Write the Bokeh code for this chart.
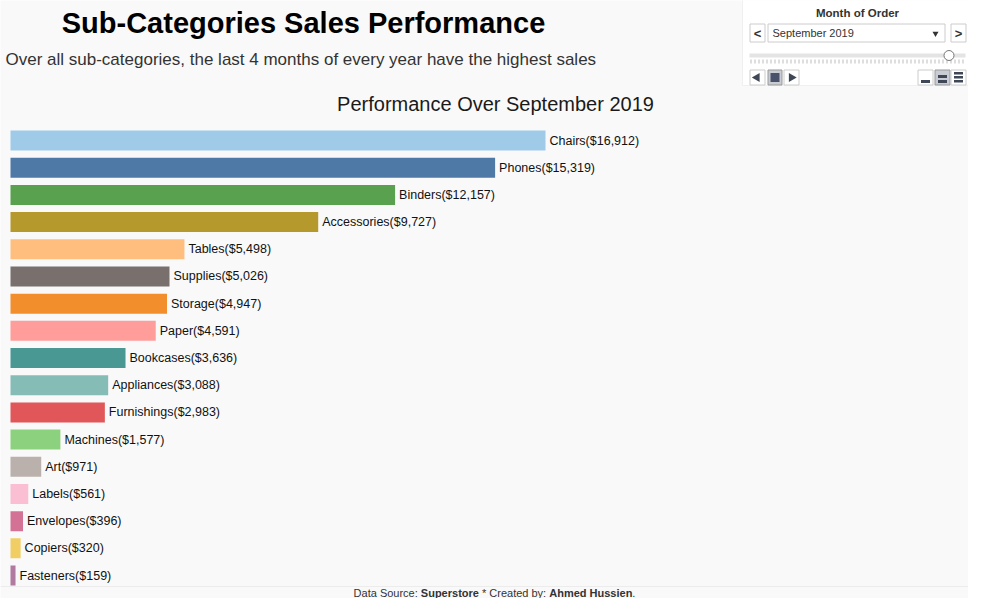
import math
from bokeh.plotting import figure
from bokeh.models import ColumnDataSource, Range1d
from bokeh.core.properties import value
from bokeh.embed import file_html
from bokeh.resources import INLINE

# ---------------- data ----------------
categories = ["Chairs", "Phones", "Binders", "Accessories", "Tables", "Supplies",
              "Storage", "Paper", "Bookcases", "Appliances", "Furnishings",
              "Machines", "Art", "Labels", "Envelopes", "Copiers", "Fasteners"]
sales = [16912, 15319, 12157, 9727, 5498, 5026, 4947, 4591, 3636, 3088, 2983,
         1577, 971, 561, 396, 320, 159]
colors = ["#a0cbe8", "#4e79a7", "#59a14f", "#b6992d", "#ffbe7d", "#79706e",
          "#f28e2b", "#ff9d9a", "#499894", "#86bcb6", "#e15759", "#8cd17d",
          "#bab0ac", "#fabfd2", "#d37295", "#f1ce63", "#b07aa1"]

main_title = "Sub-Categories Sales Performance"
subtitle = "Over all sub-categories, the last 4 months of every year have the highest sales"
chart_title = "Performance Over September 2019"
filter_title = "Month of Order"
filter_value = "September 2019"
footer_parts = ["Data Source: ", "Superstore", " * Created by: ", "Ahmed Hussien", "."]
footer_bold = [False, True, False, True, False]

# ---------------- layout constants ----------------
W, H = 968, 598
BG = "#f9f9f9"
FONT = value("Liberation Sans")
PX_PER_DOLLAR = 535 / 16912
ROW = 27.19
BAR0_X = 10
ROW0_Y = 140


def X(rx):
    return (rx - BAR0_X) / PX_PER_DOLLAR


def Y(ry):
    return (ry - ROW0_Y) / ROW


p = figure(width=W, height=H,
           x_range=Range1d(X(0), X(W)),
           y_range=Range1d(Y(H), Y(0)),
           output_backend="svg", toolbar_location=None,
           x_axis_location=None, y_axis_location=None,
           min_border=0, background_fill_color=BG, border_fill_color=BG,
           outline_line_color=None)
p.grid.visible = False

# ---------------- bars ----------------
rows = list(range(len(categories)))
labels = [f"{c}(${v:,})" for c, v in zip(categories, sales)]
src = ColumnDataSource(dict(y=rows, v=sales, c=colors, lab=labels))
p.hbar(y="y", left=0, right="v", height=20 / ROW, fill_color="c",
       line_color=None, source=src)
p.text(x="v", y="y", text="lab", x_offset=4, text_baseline="middle",
       text_align="left", text_font=FONT, text_font_size="12.5px",
       text_color="#111111", source=src)


# ---------------- header texts ----------------
def txt(rx, ry, t, size, bold=False, color="#000000", align="left"):
    p.text(x=[X(rx)], y=[Y(ry)], text=[t], text_font=FONT,
           text_font_size=size, text_font_style="bold" if bold else "normal",
           text_color=color, text_align=align, text_baseline="middle")


txt(303, 22, main_title, "29px", bold=True, color="#000000", align="center")
txt(5, 59, subtitle, "17px", color="#333333")
txt(495, 103, chart_title, "20px", color="#1a1a1a", align="center")

# footer (Arial/Liberation metrics used to chain the pieces)
W_REG = {" ": 278, "D": 722, "a": 556, "t": 278, "S": 667, "o": 556, "u": 556,
         "r": 333, "c": 500, "e": 556, ":": 278, "*": 389, "C": 722, "d": 556,
         "b": 556, "y": 500, ".": 278}
W_BOLD = {" ": 278, "S": 667, "u": 611, "p": 611, "e": 556, "r": 389, "s": 556,
          "t": 333, "o": 611, "A": 722, "h": 611, "m": 889, "d": 611, "H": 722,
          "i": 278, "n": 611}
FS = 11
widths = [sum((W_BOLD if b else W_REG).get(ch, 556) for ch in s) * FS / 1000
          for s, b in zip(footer_parts, footer_bold)]
cx = 494 - sum(widths) / 2
FOOT_Y = 592
p.segment(x0=[X(0)], y0=[Y(586)], x1=[X(W)], y1=[Y(586)],
          line_color="#ececec", line_width=1)
for part, b, w in zip(footer_parts, footer_bold, widths):
    lead = (W_BOLD if b else W_REG)[" "] * FS / 1000 * (len(part) - len(part.lstrip(" ")))
    txt(cx + lead, FOOT_Y, part.strip(" "), "11px", bold=b, color="#333333")
    cx += w

# ---------------- filter widget ----------------
WX = -8  # widget nudged left to fit the canvas


def box(l, t, r, b, fill="#ffffff", line="#cccccc", lw=1):
    p.quad(left=[X(l + WX)], right=[X(r + WX)], top=[Y(t)], bottom=[Y(b)],
           fill_color=fill, line_color=line, line_width=lw)


def wtxt(rx, ry, t, size, bold=False, color="#333333", align="left"):
    txt(rx + WX, ry, t, size, bold=bold, color=color, align=align)


box(750, -5, 976, 85, fill="#ffffff", line="#f0f0f0")
wtxt(865, 12, filter_title, "11.5px", bold=True, align="center")
box(757.5, 23.5, 772.5, 41.5)
box(775.5, 23.5, 952.5, 41.5)
box(958.5, 23.5, 973.5, 41.5)
wtxt(765, 32.5, "<", "13px", bold=True, align="center")
wtxt(966, 32.5, ">", "13px", bold=True, align="center")
wtxt(780, 32.5, filter_value, "11px")
p.scatter(x=[X(943 + WX)], y=[Y(33)], marker="inverted_triangle", size=6,
          fill_color="#333333", line_color=None)

# slider
box(757, 53, 973, 57, fill="#e4e4e4", line=None)
p.segment(x0=[X(758 + WX)], y0=[Y(61)], x1=[X(973 + WX)], y1=[Y(61)],
          line_color="#bdbdbd", line_width=4, line_dash="1 3")
p.scatter(x=[X(956.5 + WX)], y=[Y(55)], marker="circle", size=10,
          fill_color="#ffffff", line_color="#777777", line_width=1)

# playback buttons
box(757.5, 69.5, 772.5, 84.5)
box(775.5, 69.5, 789.5, 84.5, fill="#c9ccd2", line="#999999")
box(791.5, 69.5, 806.5, 84.5)
ICON = "#3f4656"
p.scatter(x=[X(764.5 + WX)], y=[Y(77)], marker="triangle", angle=math.pi / 2,
          size=9, fill_color=ICON, line_color=None)
p.scatter(x=[X(782.5 + WX)], y=[Y(77)], marker="square", size=9,
          fill_color="#49526a", line_color=None)
p.scatter(x=[X(799 + WX)], y=[Y(77)], marker="triangle", angle=-math.pi / 2,
          size=9, fill_color=ICON, line_color=None)

# display mode buttons
box(925.5, 69.5, 940.5, 84.5)
box(942.5, 69.5, 957.5, 84.5, fill="#c9ccd2", line="#999999")
box(958.5, 69.5, 973.5, 84.5)
box(928.5, 79.5, 937.5, 82.5, fill=ICON, line=None)
box(945.5, 74.5, 954.5, 77.5, fill=ICON, line=None)
box(945.5, 79.5, 954.5, 82.5, fill=ICON, line=None)
box(961.5, 71.5, 970.5, 74.0, fill=ICON, line=None)
box(961.5, 75.5, 970.5, 78.0, fill=ICON, line=None)
box(961.5, 79.5, 970.5, 82.0, fill=ICON, line=None)

open("out.html", "w").write(file_html(p, INLINE))
